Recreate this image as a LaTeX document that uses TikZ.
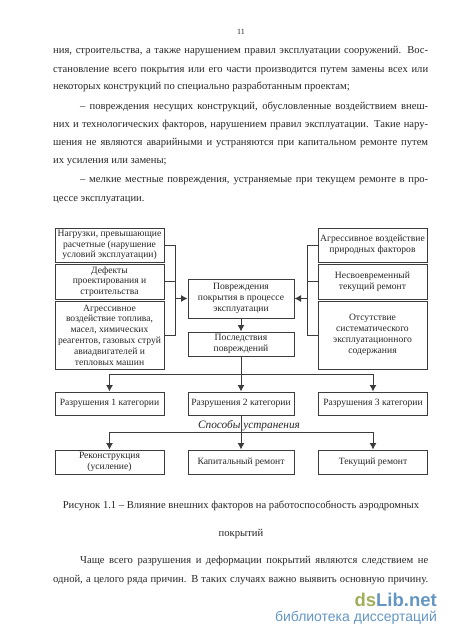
\documentclass[tikz,border=0pt]{standalone}
\usepackage{xcolor}
\usepackage{fontspec}
\setmainfont{Liberation Serif}
\newfontfamily\wmfont{Liberation Sans}
\usetikzlibrary{arrows.meta, positioning, calc}
\definecolor{inkgray}{RGB}{60, 60, 60}
\definecolor{wmgreen}{RGB}{160, 175, 90}
\definecolor{wmblue}{RGB}{100, 150, 195}

\begin{document}
\begin{tikzpicture}[
  x=1pt, y=-1pt,
  blok/.style={draw=inkgray, line width=1pt, fill=white, align=center, inner sep=0pt, text=black!85, font=\fontsize{9.6}{10.8}\selectfont},
  side/.style={blok, minimum width=109pt},
  mid/.style={blok, minimum width=106pt},
  link/.style={draw=inkgray, line width=1pt},
  arr/.style={link, -{Latex[length=6.5pt, width=7pt]}},
  body/.style={anchor=base west, inner sep=0pt, text=black!85, font=\fontsize{10.6}{12}\selectfont},
  capt/.style={anchor=base, inner sep=0pt, text=black!85, font=\fontsize{10.6}{12}\selectfont},
]
  \useasboundingbox (0,0) rectangle (450,637);

  % Page text above
  \node[capt, font=\fontsize{8}{10}\selectfont] (pageno) at (241,34) {11};
  \node[body] (t1) at (53,53.5) {\hbox to 375pt{ния, строительства, а также нарушением правил эксплуатации сооружений. Вос-}};
  \node[body] (t2) at (53,72.5) {\hbox to 375pt{становление всего покрытия или его части производится путем замены всех или}};
  \node[body] (t3) at (53,89.5) {некоторых конструкций по специально разработанным проектам;};
  \node[body] (t4) at (80,109.5) {\hbox to 348pt{– повреждения несущих конструкций, обусловленные воздействием внеш-}};
  \node[body] (t5) at (53,127.5) {\hbox to 375pt{них и технологических факторов, нарушением правил эксплуатации. Такие нару-}};
  \node[body] (t6) at (53,145.5) {\hbox to 375pt{шения не являются аварийными и устраняются при капитальном ремонте путем}};
  \node[body] (t7) at (53,163.5) {их усиления или замены;};
  \node[body] (t8) at (80,182.5) {\hbox to 348pt{– мелкие местные повреждения, устраняемые при текущем ремонте в про-}};
  \node[body] (t9) at (53,201.5) {цессе эксплуатации.};

  % Causes
  \node[side, minimum height=34pt] (load) at (109.5,245) {Нагрузки, превышающие\\расчетные (нарушение\\условий эксплуатации)};
  \node[side, minimum height=35pt] (defects) at (109.5,281.5) {Дефекты\\проектирования и\\строительства};
  \node[side, minimum height=68pt] (aggr) at (109.5,335) {Агрессивное\\воздействие топлива,\\масел, химических\\реагентов, газовых струй\\авиадвигателей и\\тепловых машин};
  \node[side, minimum height=34pt] (nature) at (372.5,245) {Агрессивное воздействие\\природных факторов};
  \node[side, minimum height=35pt] (latefix) at (372.5,281.5) {Несвоевременный\\текущий ремонт};
  \node[side, minimum height=68pt] (nomaint) at (372.5,335) {Отсутствие\\систематического\\эксплуатационного\\содержания};

  \node[mid, minimum height=39pt] (dmg) at (241,298.5) {Повреждения\\покрытия в процессе\\эксплуатации};
  \node[mid, minimum height=24pt] (conseq) at (241,344) {Последствия\\повреждений};

  % Categories and repairs
  \node[side, minimum height=23pt] (cat1) at (109.5,403.5) {Разрушения 1 категории};
  \node[mid, minimum height=23pt] (cat2) at (241,403.5) {Разрушения 2 категории};
  \node[side, minimum height=23pt] (cat3) at (373,403.5) {Разрушения 3 категории};
  \node[side, minimum height=24pt] (rep1) at (109.5,462) {Реконструкция\\(усиление)};
  \node[mid, minimum height=24pt] (rep2) at (241,462) {Капитальный ремонт};
  \node[side, minimum height=24pt] (rep3) at (373,462) {Текущий ремонт};

  \coordinate (busl) at (175,298.5);
  \coordinate (busr) at (307,298.5);
  \coordinate (busa) at (241,374);
  \coordinate (busb) at (241,432);

  % Links
  \draw[link] (load.east) -| (busl);
  \draw[link] (aggr.east) -| (busl);
  \draw[link] (defects.east) -- (defects.east -| busl);
  \draw[arr] (busl) -- (dmg.west);
  \draw[link] (nature.west) -| (busr);
  \draw[link] (nomaint.west) -| (busr);
  \draw[link] (latefix.west) -- (latefix.west -| busr);
  \draw[arr] (busr) -- (dmg.east);
  \draw[arr] (dmg.south) -- (conseq.north);
  \draw[arr] (conseq.south) -- (cat2.north);
  \draw[arr] (busa) -| (cat1.north);
  \draw[arr] (busa) -| (cat3.north);

  % Label over the line
  \node[inner sep=0pt, text=black!85, font=\fontsize{11.3}{13}\itshape] (ways) at (249,426) {Способы устранения};
  \draw[arr] (cat2.south) -- (rep2.north);
  \draw[arr, line width=0.8pt] (busb) -| (rep1.north);
  \draw[arr, line width=0.8pt] (busb) -| (rep3.north);

  % Caption and page text below
  \node[capt] (cap1) at (241,508.5) {Рисунок 1.1 – Влияние внешних факторов на работоспособность аэродромных};
  \node[capt] (cap2) at (241,536.5) {покрытий};
  \node[body] (t10) at (80,563.5) {\hbox to 348pt{Чаще всего разрушения и деформации покрытий являются следствием не}};
  \node[body] (t11) at (53,582.5) {\hbox to 375pt{одной, а целого ряда причин. В таких случаях важно выявить основную причину.}};

  % Site mark
  \node[anchor=base east, inner sep=0pt, font=\wmfont\bfseries\fontsize{18.5}{20}\selectfont] (mark) at (437,606.5) {\textcolor{wmgreen}{ds}\textcolor{wmblue}{Lib.net}};
  \node[anchor=base east, inner sep=0pt, text=wmblue, font=\wmfont\fontsize{14}{15}\selectfont] (marksub) at (437,621) {библиотека диссертаций};
\end{tikzpicture}
\end{document}
